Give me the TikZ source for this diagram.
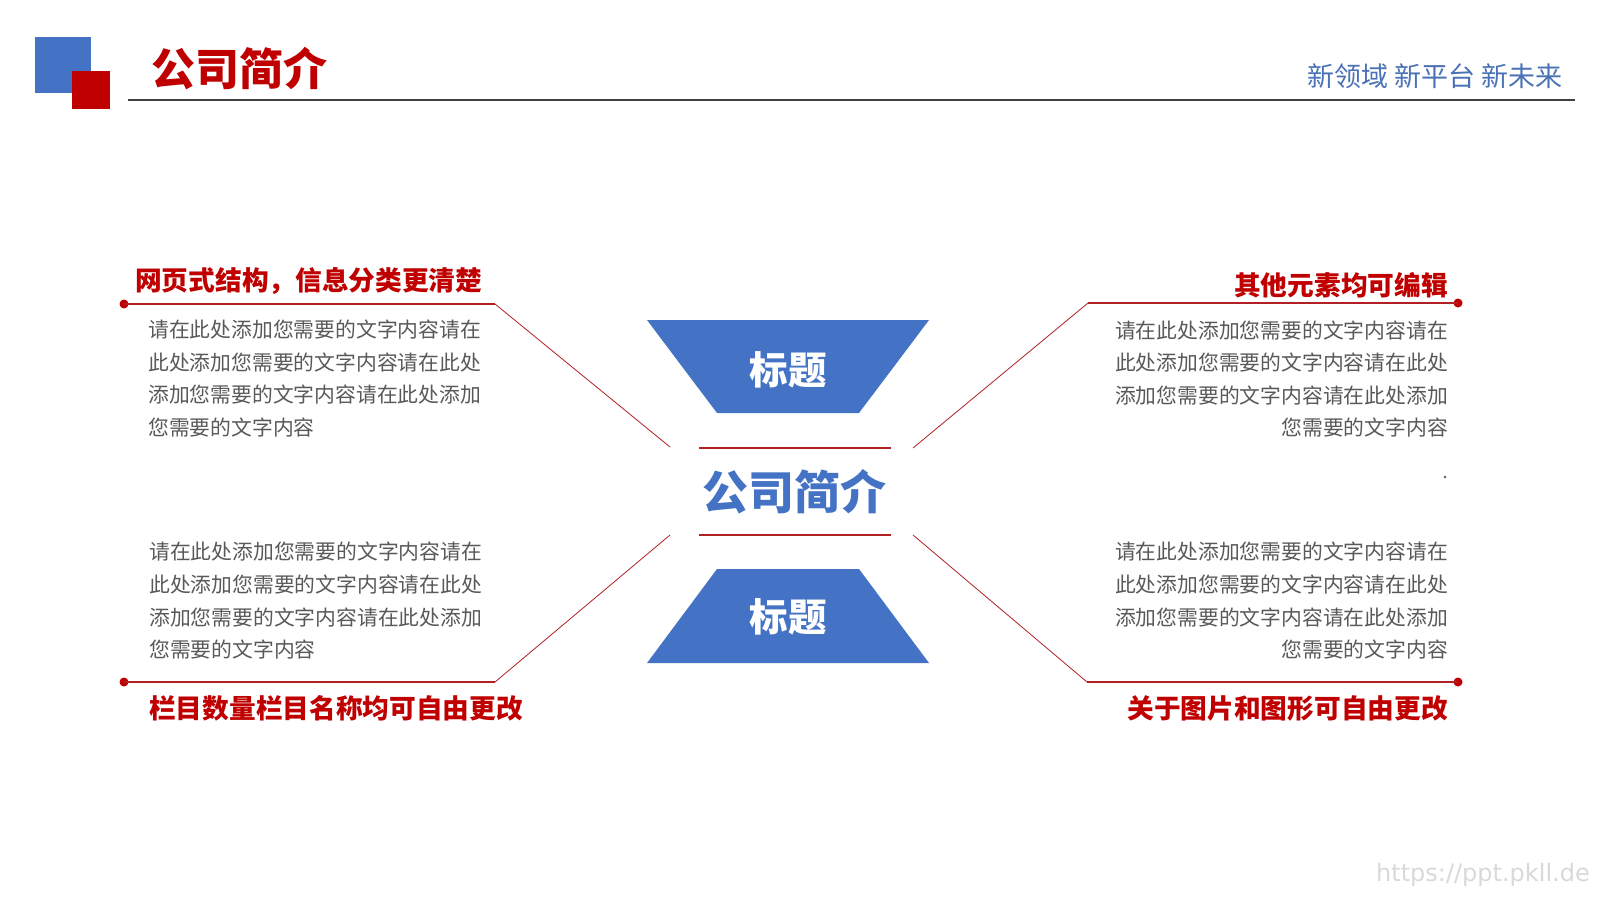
\documentclass[tikz,border=0pt]{standalone}
\usepackage{fontspec}
\setmainfont{Noto Sans CJK SC}
\newfontfamily\cjk{Noto Sans CJK SC}
\newfontfamily\wmfont{DejaVu Sans}
\definecolor{cblue}{HTML}{4472C4}
\definecolor{cred}{HTML}{C00000}
\definecolor{cgray}{HTML}{595959}
\definecolor{lred}{HTML}{B02025}
\definecolor{cline}{HTML}{404040}
\definecolor{tagblue}{HTML}{4A72B5}
\definecolor{wmgray}{HTML}{D9D9D9}
\begin{document}
\begin{tikzpicture}[x=1pt,y=-1pt,
  redline/.style={draw=lred, line width=1.3pt},
  diag/.style={draw=lred, line width=0.8pt},
  dotred/.style={circle, fill=cred, inner sep=0pt, minimum size=9pt},
  bodytxt/.style={font=\cjk\fontsize{20.8}{25}\selectfont, text=cgray, inner sep=0pt},
  headtxt/.style={font=\cjk\fontsize{26.7}{30}\selectfont\bfseries, text=cred, inner sep=0pt},
  traptxt/.style={font=\cjk\fontsize{38.5}{40}\selectfont\bfseries, text=white, inner sep=0pt},
  trapfill/.style={fill=cblue, draw=none},
]
\useasboundingbox[fill=white] (0,0) rectangle (1600,900);

% header
\fill[cblue] (35,37) rectangle (91,93);
\fill[cred] (72,71) rectangle (110,109);
\node[anchor=west, inner sep=0pt, text=cred, font=\cjk\fontsize{44}{46}\selectfont\bfseries] (title) at (151,69) {公司简介};
\coordinate (hl) at (128,100);
\coordinate (hr) at (1575,100);
\draw[line width=2pt, draw=cline] (hl) -- (hr);
\node[anchor=east, inner sep=0pt, text=tagblue, font=\cjk\fontsize{27}{28}\selectfont] (tag) at (1563,76.5) {新领域 新平台 新未来};

% trapezoids
\fill[trapfill] (647,320) -- (929,320) -- (859,413) -- (717,413) -- cycle;
\node[traptxt] (t1) at (788,370) {标题};
\fill[trapfill] (717,569) -- (859,569) -- (929,663) -- (647,663) -- cycle;
\node[traptxt] (t2) at (788,617) {标题};

% center
\coordinate (c1a) at (699,448); \coordinate (c1b) at (891,448);
\coordinate (c2a) at (699,535); \coordinate (c2b) at (891,535);
\draw[redline, line width=1.1pt] (c1a) -- (c1b);
\draw[redline, line width=1.1pt] (c2a) -- (c2b);
\node[inner sep=0pt, text=cblue, font=\cjk\fontsize{46}{48}\selectfont\bfseries] (ctitle) at (794,491.5) {公司简介};

% connector lines
\node[dotred] (dLU) at (124,304) {};
\coordinate (kLU) at (495,304); \coordinate (eLU) at (670,447);
\draw[redline] (dLU.center) -- (kLU);
\draw[diag] (kLU) -- (eLU);

\node[dotred] (dRU) at (1458,303) {};
\coordinate (kRU) at (1088,303); \coordinate (eRU) at (913,448);
\draw[redline] (dRU.center) -- (kRU);
\draw[diag] (kRU) -- (eRU);

\node[dotred] (dLL) at (124,682) {};
\coordinate (kLL) at (495,682); \coordinate (eLL) at (670,535);
\draw[redline] (dLL.center) -- (kLL);
\draw[diag] (kLL) -- (eLL);

\node[dotred] (dRL) at (1458,682) {};
\coordinate (kRL) at (1087,682); \coordinate (eRL) at (913,535);
\draw[redline] (dRL.center) -- (kRL);
\draw[diag] (kRL) -- (eRL);

% headings
\node[headtxt, anchor=west] (hLU) at (135,281) {网页式结构，信息分类更清楚};
\node[headtxt, anchor=east] (hRU) at (1448,285) {其他元素均可编辑};
\node[headtxt, anchor=west] (hLL) at (149,708) {栏目数量栏目名称均可自由更改};
\node[headtxt, anchor=east] (hRL) at (1448,708) {关于图片和图形可自由更改};

% body texts
\node[bodytxt, anchor=west] (bLU1) at (148,330) {请在此处添加您需要的文字内容请在};
\node[bodytxt, anchor=west] (bLU2) at (148,362.5) {此处添加您需要的文字内容请在此处};
\node[bodytxt, anchor=west] (bLU3) at (148,395) {添加您需要的文字内容请在此处添加};
\node[bodytxt, anchor=west] (bLU4) at (148,427.5) {您需要的文字内容};

\node[bodytxt, anchor=east] (bRU1) at (1448,330.5) {请在此处添加您需要的文字内容请在};
\node[bodytxt, anchor=east] (bRU2) at (1448,363) {此处添加您需要的文字内容请在此处};
\node[bodytxt, anchor=east] (bRU3) at (1448,395.5) {添加您需要的文字内容请在此处添加};
\node[bodytxt, anchor=east] (bRU4) at (1448,428) {您需要的文字内容};

\node[bodytxt, anchor=west] (bLL1) at (149,552) {请在此处添加您需要的文字内容请在};
\node[bodytxt, anchor=west] (bLL2) at (149,585) {此处添加您需要的文字内容请在此处};
\node[bodytxt, anchor=west] (bLL3) at (149,618) {添加您需要的文字内容请在此处添加};
\node[bodytxt, anchor=west] (bLL4) at (149,650) {您需要的文字内容};

\node[bodytxt, anchor=east] (bRL1) at (1448,552) {请在此处添加您需要的文字内容请在};
\node[bodytxt, anchor=east] (bRL2) at (1448,585) {此处添加您需要的文字内容请在此处};
\node[bodytxt, anchor=east] (bRL3) at (1448,618) {添加您需要的文字内容请在此处添加};
\node[bodytxt, anchor=east] (bRL4) at (1448,650) {您需要的文字内容};

% small dot
\fill[cgray] (1445,477) circle (1.3pt);

% watermark
\node[anchor=east, inner sep=0pt, text=wmgray, font=\wmfont\fontsize{24}{24}\selectfont] (wm) at (1590,875) {https://ppt.pkll.de};
\end{tikzpicture}
\end{document}
